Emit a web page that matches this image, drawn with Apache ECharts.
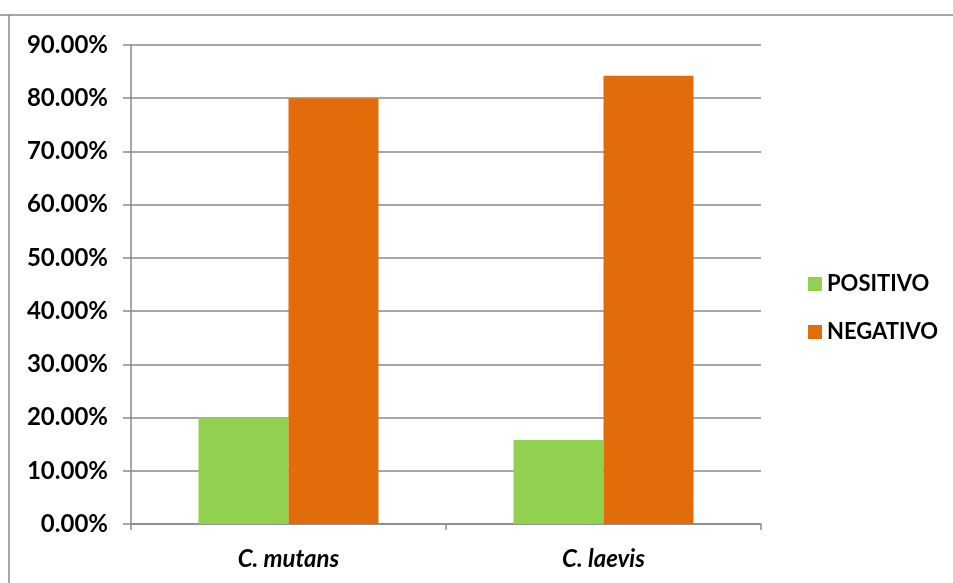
<!DOCTYPE html>
<html><head><meta charset="utf-8">
<script src="https://cdn.jsdelivr.net/npm/echarts@6/dist/echarts.min.js"></script>
<style>html,body{margin:0;padding:0;background:#fff}#c{width:953px;height:583px}</style>
</head><body><div id="c"></div>
<script>
const categories = ['C. mutans', 'C. laevis'];
const positivo = [20.0, 15.8];
const negativo = [80.0, 84.2];
const yTicks = { min: 0, max: 90, interval: 10 };

const chart = echarts.init(document.getElementById('c'), null, { renderer: 'canvas' });
const font = 'Lato';
chart.setOption({
  animation: false,
  backgroundColor: '#fff',
  graphic: [
    { type: 'line', shape: { x1: 0, y1: 15, x2: 953, y2: 15 }, style: { stroke: '#8a8a8a', lineWidth: 1.5 } },
    { type: 'line', shape: { x1: 9, y1: 15, x2: 9, y2: 583 }, style: { stroke: '#8a8a8a', lineWidth: 1.5 } }
  ],
  grid: { left: 131, right: 192, top: 45, bottom: 59, containLabel: false },
  legend: {
    orient: 'vertical', left: 803, top: 268, icon: 'rect',
    itemWidth: 14, itemHeight: 14, itemGap: 26,
    textStyle: { fontFamily: font, fontWeight: 'bold', fontSize: 22, color: '#000', lineHeight: 22 },
    data: ['POSITIVO', 'NEGATIVO']
  },
  xAxis: {
    type: 'category', data: categories,
    axisLine: { lineStyle: { color: '#8a8a8a', width: 1.5 } },
    axisTick: { show: true, length: 6, lineStyle: { color: '#8a8a8a', width: 1.5 } },
    axisLabel: { margin: 23, fontFamily: font, fontWeight: 'bold', fontStyle: 'italic', fontSize: 24, color: '#000' }
  },
  yAxis: {
    type: 'value', min: yTicks.min, max: yTicks.max, interval: yTicks.interval,
    axisLine: { show: true, lineStyle: { color: '#8a8a8a', width: 1.5 } },
    axisTick: { show: true, length: 8, lineStyle: { color: '#8a8a8a', width: 1.5 } },
    splitLine: { show: true, lineStyle: { color: '#8a8a8a', width: 1.5 } },
    axisLabel: { margin: 23, fontFamily: font, fontWeight: 'bold', fontSize: 24, color: '#000',
      formatter: v => v.toFixed(2) + '%' }
  },
  series: [
    { name: 'POSITIVO', type: 'bar', data: positivo, barWidth: 90, barGap: '0%', itemStyle: { color: '#92D050' } },
    { name: 'NEGATIVO', type: 'bar', data: negativo, barWidth: 90, barGap: '0%', itemStyle: { color: '#E36C0A' } }
  ]
});
</script></body></html>
